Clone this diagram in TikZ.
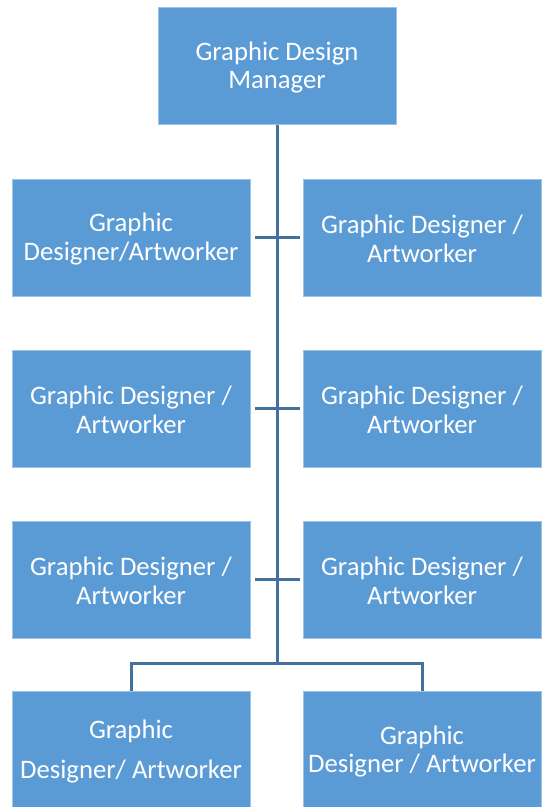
\documentclass[tikz,border=0pt]{standalone}
\usepackage{fontspec}
\setmainfont{Carlito}
\definecolor{boxblue}{HTML}{5B9BD5}
\definecolor{linkblue}{HTML}{41719C}
\begin{document}
\begin{tikzpicture}[x=1pt,y=-1pt,
  box/.style={rectangle, fill=boxblue, draw=boxblue!60!white, line width=0.8pt,
    minimum width=238pt, minimum height=117pt, inner sep=0pt},
  txt/.style={text=white, align=center, inner sep=0pt, font=\fontsize{26.7}{28.8}\selectfont},
  link/.style={draw=linkblue, line width=3pt}]
\useasboundingbox (0,0) rectangle (542,807);
\node[box] (m) at (277,66) {};
\node[box] (l1) at (131,237.5) {};
\node[box] (r1) at (422,237.5) {};
\node[box] (l2) at (131,408.5) {};
\node[box] (r2) at (422,408.5) {};
\node[box] (l3) at (131,579.5) {};
\node[box] (r3) at (422,579.5) {};
\node[box] (b1) at (131,750) {};
\node[box] (b2) at (422,750) {};
\node[txt] (tm) at ([yshift=-1.5pt]m.center) {Graphic Design\\Manager};
\node[txt] (tl1) at ([yshift=-1.5pt]l1.center) {Graphic\\Designer/Artworker};
\node[txt] (tr1) at ([yshift=-1.5pt]r1.center) {Graphic Designer /\\Artworker};
\node[txt] (tl2) at ([yshift=-1.5pt]l2.center) {Graphic Designer /\\Artworker};
\node[txt] (tr2) at ([yshift=-1.5pt]r2.center) {Graphic Designer /\\Artworker};
\node[txt] (tl3) at ([yshift=-1.5pt]l3.center) {Graphic Designer /\\Artworker};
\node[txt] (tr3) at ([yshift=-1.5pt]r3.center) {Graphic Designer /\\Artworker};
\node[txt] (tb1) at ([yshift=-1.5pt]b1.center) {Graphic\\[12pt]Designer/ Artworker};
\node[txt] (tb2) at ([yshift=-1.5pt]b2.center) {Graphic\\Designer / Artworker};
\coordinate (j) at (277,663);
\draw[link] (m.south) -- (j);
\draw[link] ([xshift=5pt]l1.east) -- ([xshift=-3pt]r1.west);
\draw[link] ([xshift=5pt]l2.east) -- ([xshift=-3pt]r2.west);
\draw[link] ([xshift=5pt]l3.east) -- ([xshift=-3pt]r3.west);
\draw[link] (b1.north) |- (j) -| (b2.north);
\end{tikzpicture}
\end{document}
